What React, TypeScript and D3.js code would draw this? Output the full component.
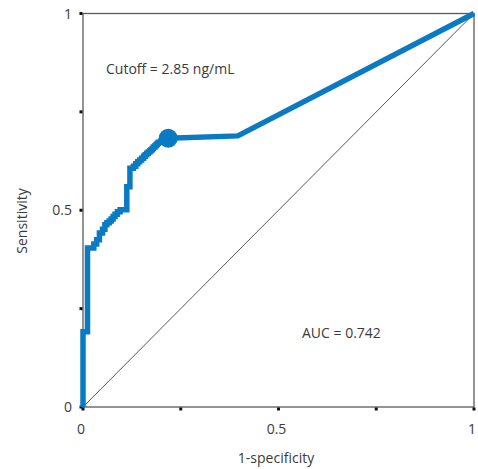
import React from "react";
import * as d3 from "d3";

// ROC curve vertices (1-specificity, sensitivity)
const stairFpr = [0, 0.0115, 0.0276, 0.035, 0.042, 0.05, 0.056, 0.061, 0.067, 0.072, 0.077, 0.082, 0.088, 0.095, 0.112, 0.12, 0.12, 0.129, 0.135, 0.14, 0.145, 0.15, 0.155, 0.159, 0.163, 0.167, 0.171, 0.174, 0.177, 0.18, 0.184, 0.187, 0.19, 0.193, 0.199, 0.205, 0.218];
const stairTpr = [0.025, 0.191, 0.404, 0.414, 0.425, 0.442, 0.452, 0.463, 0.468, 0.473, 0.478, 0.484, 0.49, 0.496, 0.501, 0.56, 0.597, 0.607, 0.612, 0.618, 0.623, 0.628, 0.632, 0.637, 0.641, 0.645, 0.648, 0.651, 0.654, 0.657, 0.661, 0.664, 0.667, 0.67, 0.673, 0.676, 0.683];
const tailFpr = [0.396, 1];
const tailTpr = [0.689, 1];
const cutoffPoint = { fpr: 0.218, tpr: 0.683 };

const majorTicks = [0, 0.5, 1];
const minorTicks = [0.25, 0.75];
const tickLabels = ["0", "0.5", "1"];

const cutoffText = "Cutoff = 2.85 ng/mL";
const aucText = "AUC = 0.742";
const xTitle = "1-specificity";
const yTitle = "Sensitivity";

export default function App() {
  const W = 478, H = 469;
  const left = 83, right = 474, top = 13.5, bottom = 407;
  const x = d3.scaleLinear().domain([0, 1]).range([left, right]);
  const y = d3.scaleLinear().domain([0, 1]).range([bottom, top]);

  const pts: [number, number][] = [[0, 0]];
  for (let i = 0; i < stairFpr.length; i++) {
    const prev = pts[pts.length - 1];
    pts.push([prev[0], stairTpr[i]]);
    pts.push([stairFpr[i], stairTpr[i]]);
  }
  for (let i = 0; i < tailFpr.length; i++) pts.push([tailFpr[i], tailTpr[i]]);

  const line = d3.line<[number, number]>().x(d => x(d[0])).y(d => y(d[1])).curve(d3.curveLinear);

  const font = "'Open Sans', 'Noto Sans', sans-serif";
  const textColor = "#3b3b3b";
  const axisColor = "#5a5a5a";
  const blue = "#0a7bc2";
  const allTicks = [...majorTicks, ...minorTicks];

  return (
    <svg width={W} height={H} style={{ position: "absolute", left: 0, top: 0, background: "#fff" }}>
      {/* diagonal reference */}
      <line x1={x(0)} y1={y(0)} x2={x(1)} y2={y(1)} stroke="#444" strokeWidth={0.9} />
      {/* frame */}
      <rect x={left} y={top} width={right - left} height={bottom - top} fill="none" stroke={axisColor} strokeWidth={1.3} />
      {/* ticks */}
      {allTicks.map((t, i) => (
        <rect key={"yt" + i} x={left - 3.5} y={y(t) - 1.5} width={3} height={3} fill="#111" />
      ))}
      {allTicks.map((t, i) => (
        <rect key={"xt" + i} x={x(t) - 1.5} y={bottom + 0.5} width={3} height={3} fill="#111" />
      ))}
      {majorTicks.map((t, i) => (
        <text key={"yl" + i} x={left - 11} y={y(t) + 5} textAnchor="end" fontSize={14} fontFamily={font} fill={textColor}>{tickLabels[i]}</text>
      ))}
      {majorTicks.map((t, i) => (
        <text key={"xl" + i} x={x(t) - 2} y={434} textAnchor="middle" fontSize={14} fontFamily={font} fill={textColor}>{tickLabels[i]}</text>
      ))}
      {/* ROC curve */}
      <path d={line(pts) || ""} fill="none" stroke={blue} strokeWidth={5.5} strokeLinejoin="miter" strokeLinecap="butt" />
      <circle cx={x(cutoffPoint.fpr)} cy={y(cutoffPoint.tpr)} r={9.5} fill={blue} />
      {/* annotations */}
      <text x={106} y={74} fontSize={14} fontFamily={font} fill={textColor}>{cutoffText}</text>
      <text x={302} y={338} fontSize={14} fontFamily={font} fill={textColor}>{aucText}</text>
      <text x={276} y={463} textAnchor="middle" fontSize={14} fontFamily={font} fill={textColor}>{xTitle}</text>
      <text transform={`translate(27,221) rotate(-90)`} textAnchor="middle" fontSize={14} fontFamily={font} fill={textColor}>{yTitle}</text>
    </svg>
  );
}
